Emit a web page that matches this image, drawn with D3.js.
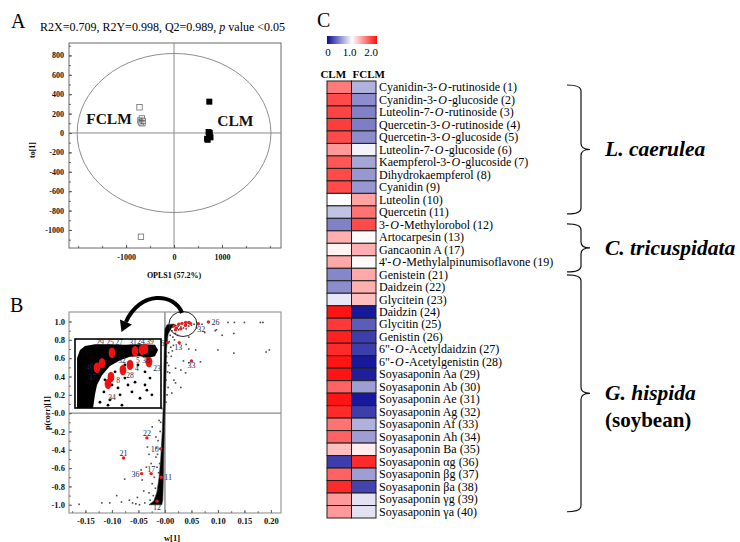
<!DOCTYPE html>
<html>
<head>
<meta charset="utf-8">
<script src="https://cdn.jsdelivr.net/npm/d3@7"></script>
<style>
  body { margin: 0; background: #fff; }
  svg { display: block; }
  text { font-family: "Liberation Serif", "Times New Roman", serif; }
</style>
</head>
<body>
<svg id="fig" width="740" height="542"></svg>
<script>
// ---------------- data ----------------
// panel A: OPLS-DA scores (OPLS1, to[1])
var fclmScores = [[-720, 265], [-700, 130], [-670, 150], [-660, 100], [-690, 110], [-650, 125], [-690, -1070]];
var fclmCross = [[-670, 125]];
var clmScores = [[735, 323], [720, 10], [745, 0], [690, -60], [760, -45], [730, -30], [700, -70]];
var ellipseRadii = [2020, 820];
var aTicksX = [-1000, 0, 1000];
var aTicksY = [-1000, -800, -600, -400, -200, 0, 200, 400, 600, 800];

// panel B: S-plot (w[1], p(corr)[1])
var bTicksX = [-0.15, -0.10, -0.05, 0, 0.05, 0.10, 0.15, 0.20];
var bTicksY = [-1.0, -0.8, -0.6, -0.4, -0.2, 0, 0.2, 0.4, 0.6, 0.8, 1.0];
// outline of the dense band of variables
var sBand = [[-0.030, -1.0], [-0.021, -0.96], [-0.015, -0.86], [-0.011, -0.7], [-0.008, -0.5], [-0.005, -0.2],
  [-0.003, 0.1], [-0.002, 0.5], [-0.001, 0.8], [0.0, 0.92], [0.004, 0.965], [0.016, 0.972], [0.022, 0.958],
  [0.012, 0.93], [0.006, 0.86], [0.003, 0.7], [0.002, 0.4], [0.0, 0.0], [-0.002, -0.4], [-0.003, -0.75],
  [-0.004, -0.95], [-0.006, -1.0]];
var sScatter = [[0.004, 0.55], [0.007, 0.66], [0.011, 0.72], [0.015, 0.83], [0.020, 0.87], [0.026, 0.91], [0.009, 0.44],
  [0.006, 0.28], [0.002, 0.36], [0.012, 0.62], [0.008, 0.78], [0.018, 0.80], [0.013, 0.90], [0.022, 0.93], [0.006, 0.90],
  [0.010, 0.85], [0.003, 0.62], [0.005, 0.45], [0.016, 0.74], [0.004, 0.20], [0.002, 0.12], [0.007, 0.52], [0.024, 0.85],
  [0.014, 0.68], [0.035, 0.93], [0.045, 0.95], [0.040, 0.92], [0.050, 0.96], [0.055, 0.97], [0.025, 0.95], [0.038, 0.95],
  [0.030, 0.94], [0.119, 0.99], [0.131, 0.99], [0.150, 0.99], [0.180, 0.99], [0.185, 0.99], [0.095, 0.90], [0.108, 0.85],
  [0.130, 0.87], [0.100, 0.69], [0.130, 0.655], [0.191, 0.667], [0.197, 0.69], [0.045, 0.70], [0.058, 0.69], [0.035, 0.57],
  [0.045, 0.55], [0.067, 0.56], [0.020, 0.49], [0.030, 0.47], [0.039, 0.44], [0.017, 0.36], [0.030, 0.28], [0.020, 0.33],
  [0.013, 0.22], [0.097, 0.91], [0.070, 0.97], [0.060, 0.93], [0.045, 0.83], [0.040, 0.75], [0.075, 0.88],
  [-0.162, -0.995], [-0.119, -0.98], [-0.104, -0.98], [-0.091, -0.90], [-0.076, -0.72], [-0.061, -0.98], [-0.052, -0.92],
  [-0.043, -0.73], [-0.035, -0.59], [-0.033, -0.37], [-0.024, -0.15], [-0.017, -0.26], [-0.017, -0.48], [-0.024, -0.77],
  [-0.030, -0.87], [-0.048, -1.0], [-0.082, -0.97], [-0.067, -0.95], [-0.011, -0.08], [-0.013, -0.30], [-0.015, -0.59],
  [-0.020, -0.70], [-0.028, -0.95], [-0.038, -0.98], [-0.022, -0.90], [-0.018, -0.82], [-0.014, -0.45], [-0.009, -0.20],
  [-0.012, -0.65], [-0.026, -0.55], [-0.040, -0.85], [-0.055, -0.99], [-0.010, -0.55], [-0.008, -0.10], [-0.016, -0.38],
  [-0.006, 0.05], [-0.030, -0.45], [-0.045, -0.62], [-0.025, -0.99]];
// marked compounds
var sMarked = [[0.082, 0.995], [0.063, 0.975], [0.005, 0.77], [0.027, 0.77], [0.05, 0.57], [-0.034, -0.27],
  [-0.078, -0.49], [-0.008, -0.39], [-0.044, -0.66], [-0.026, -0.66], [-0.007, -0.70], [-0.015, -0.96],
  [0.017, 0.95], [0.026, 0.97], [0.032, 0.98], [0.039, 0.99], [0.045, 0.99], [0.048, 0.98], [0.022, 0.93],
  [0.020, 0.91], [0.030, 0.92], [0.039, 0.96]];
var sMarkedLabels = ["26", "32", "6", "13", "33", "22", "21", "10", "36", "17", "11", "12"];
var zoomCircle = [0.034, 0.973];

// enlarged region (inset)
var insetBlob = [[0.0012, 0.88], [0.0012, 0.967], [0.0029, 0.981], [0.0058, 0.988], [0.0116, 0.991], [0.0203, 0.991],
  [0.0291, 0.990], [0.0378, 0.991], [0.0465, 0.990], [0.0483, 0.981], [0.0465, 0.970], [0.0424, 0.967], [0.0378, 0.970],
  [0.032, 0.969], [0.0262, 0.963], [0.0203, 0.953], [0.0157, 0.937], [0.0128, 0.920], [0.0116, 0.903], [0.0105, 0.88]];
var insetDots = [[0.0174, 0.929], [0.0233, 0.943], [0.029, 0.932], [0.0349, 0.925], [0.0407, 0.943], [0.0436, 0.932],
  [0.0418, 0.911], [0.0331, 0.908], [0.0262, 0.903], [0.0203, 0.894], [0.0168, 0.908], [0.0366, 0.955], [0.0308, 0.920],
  [0.025, 0.915], [0.0145, 0.890], [0.0192, 0.885], [0.0233, 0.963], [0.029, 0.955], [0.0407, 0.920], [0.0378, 0.897],
  [0.0273, 0.885], [0.0447, 0.903], [0.0215, 0.920]];
var insetRed = [[0.0215, 0.976], [0.0349, 0.979], [0.039, 0.981], [0.0407, 0.983], [0.043, 0.960], [0.0128, 0.950],
  [0.0157, 0.958], [0.0279, 0.946], [0.032, 0.955], [0.0209, 0.934], [0.0192, 0.922]];
var insetLabels = [["29", 0.0145, 0.995], ["25", 0.0203, 0.995], ["27", 0.0256, 0.995], ["31", 0.0337, 0.995],
  ["24", 0.0384, 0.997], ["39", 0.0436, 0.997], ["30", 0.0442, 0.984], ["40", 0.0087, 0.951], ["32", 0.0273, 0.963],
  ["5", 0.0366, 0.963], ["38", 0.0413, 0.963], ["4", 0.036, 0.950], ["23", 0.0477, 0.950], ["28", 0.032, 0.937],
  ["8", 0.025, 0.929], ["34", 0.0215, 0.899], ["37", 0.0100, 0.934]];

// panel C: relative abundance heat map
var samples = ["CLM", "FCLM"];
var compounds = ["Cyanidin-3-*O*-rutinoside", "Cyanidin-3-*O*-glucoside", "Luteolin-7-*O*-rutinoside",
  "Quercetin-3-*O*-rutinoside", "Quercetin-3-*O*-glucoside", "Luteolin-7-*O*-glucoside", "Kaempferol-3-*O*-glucoside",
  "Dihydrokaempferol", "Cyanidin", "Luteolin", "Quercetin", "3-*O*-Methylorobol", "Artocarpesin", "Gancaonin A",
  "4'-*O*-Methylalpinumisoflavone", "Genistein", "Daidzein", "Glycitein", "Daidzin", "Glycitin", "Genistin",
  "6\"-*O*-Acetyldaidzin", "6\"-*O*-Acetylgenistin", "Soyasaponin Aa", "Soyasaponin Ab", "Soyasaponin Ae",
  "Soyasaponin Ag", "Soyasaponin Af", "Soyasaponin Ah", "Soyasaponin Ba", "Soyasaponin \u03b1g", "Soyasaponin \u03b2g",
  "Soyasaponin \u03b2a", "Soyasaponin \u03b3g", "Soyasaponin \u03b3a"];
var compoundIds = [1, 2, 3, 4, 5, 6, 7, 8, 9, 10, 11, 12, 13, 17, 19, 21, 22, 23, 24, 25, 26, 27, 28, 29, 30, 31, 32, 33,
  34, 35, 36, 37, 38, 39, 40];
var clmValues = [1.55, 1.75, 1.78, 1.8, 1.75, 1.42, 1.7, 1.75, 1.75, 1.0, 0.75, 0.48, 1.33, 1.05, 1.36, 0.5, 0.53, 0.9,
  1.97, 1.82, 1.92, 1.88, 1.97, 1.97, 1.65, 1.97, 1.88, 1.58, 1.65, 1.27, 0.2, 1.65, 1.88, 1.42, 1.42];
var fclmValues = [0.68, 0.53, 0.48, 0.47, 0.53, 0.95, 0.63, 0.57, 0.57, 1.38, 1.58, 1.75, 1.02, 1.33, 1.02, 1.36, 1.33,
  1.27, 0.05, 0.33, 0.2, 0.2, 0.05, 0.08, 0.6, 0.05, 0.2, 0.68, 0.6, 1.08, 1.88, 0.6, 0.23, 0.88, 0.88];
var legendTicks = [0, 1, 2];
var groupNames = ["L. caerulea", "C. tricuspidata", "G. hispida"];
var groupNotes = ["", "", "(soybean)"];
var groupFrom = [0.32, 11.45, 15.53];   // in rows
var groupTo = [10.65, 15.29, 34.5];

// ---------------- drawing ----------------
var svg = d3.select("#fig");
var serif = "'Liberation Serif', 'Times New Roman', serif";

function panelLetter(x, y, t) {
  svg.append("text").attr("x", x).attr("y", y).style("font-size", "20px").text(t);
}
function plain(d) { return String(d) }   // keep "-1000", no thousands separator or unicode minus

// ===== Panel A =====
panelLetter(11, 28, "A");
var stats = svg.append("text").attr("x", 40).attr("y", 31).style("font-size", "12px");
stats.append("tspan").text("R2X=0.709,  R2Y=0.998,  Q2=0.989,  ");
stats.append("tspan").style("font-style", "italic").text("p");
stats.append("tspan").text(" value <0.05");

var ax = d3.scaleLinear().domain([-2190, 2230]).range([69, 281]);
var ay = d3.scaleLinear().domain([-1186, 928]).range([248, 43]);
var gA = svg.append("g");

gA.append("rect").attr("x", 69).attr("y", 43).attr("width", 212).attr("height", 205)
  .attr("fill", "none").attr("stroke", "#6b6b6b").attr("stroke-width", 1);
gA.append("line").attr("x1", ax(0)).attr("x2", ax(0)).attr("y1", 43).attr("y2", 248)
  .attr("stroke", "#8a8a8a").attr("stroke-width", 1);
gA.append("line").attr("x1", 69).attr("x2", 281).attr("y1", ay(0)).attr("y2", ay(0))
  .attr("stroke", "#8a8a8a").attr("stroke-width", 1);
gA.append("ellipse").attr("cx", ax(0)).attr("cy", ay(0))
  .attr("rx", ax(ellipseRadii[0]) - ax(0)).attr("ry", ay(0) - ay(ellipseRadii[1]))
  .attr("fill", "none").attr("stroke", "#808080").attr("stroke-width", 0.9);

gA.selectAll(".fclm").data(fclmScores).enter().append("rect")
  .attr("x", function (d) { return ax(d[0]) - 2.7 }).attr("y", function (d) { return ay(d[1]) - 2.7 })
  .attr("width", 5.4).attr("height", 5.4)
  .attr("fill", "#fff").attr("fill-opacity", 0.6).attr("stroke", "#6e6e6e").attr("stroke-width", 0.8);
gA.selectAll(".cross").data(fclmCross).enter().append("path")
  .attr("d", function (d) { var x = ax(d[0]), y = ay(d[1]); return "M" + (x - 3) + "," + y + "H" + (x + 3) + "M" + x + "," + (y - 3) + "V" + (y + 3) })
  .attr("stroke", "#333").attr("stroke-width", 0.9);
gA.selectAll(".clm").data(clmScores).enter().append("rect")
  .attr("x", function (d) { return ax(d[0]) - 3 }).attr("y", function (d) { return ay(d[1]) - 3 })
  .attr("width", 6).attr("height", 6).attr("fill", "#000");

gA.append("text").attr("x", ax(-880)).attr("y", ay(95)).attr("text-anchor", "end")
  .style("font-size", "15.5px").style("font-weight", "bold").attr("fill", "#111").text("FCLM");
gA.append("text").attr("x", ax(900)).attr("y", ay(75))
  .style("font-size", "15.5px").style("font-weight", "bold").attr("fill", "#111").text("CLM");

// axes A (ticks inside)
gA.append("g").attr("transform", "translate(69,0)")
  .call(d3.axisLeft(ay).tickValues(aTicksY).tickSize(-3).tickPadding(5).tickFormat(plain));
gA.append("g").attr("transform", "translate(69,0)")
  .call(d3.axisLeft(ay).tickValues(d3.range(-1100, 901, 100)).tickSize(-1.8).tickFormat(""));
gA.append("g").attr("transform", "translate(0,248)")
  .call(d3.axisBottom(ax).tickValues(aTicksX).tickSize(-3).tickPadding(6).tickFormat(plain));
gA.append("g").attr("transform", "translate(0,248)")
  .call(d3.axisBottom(ax).tickValues(d3.range(-2000, 2001, 500)).tickSize(-1.8).tickFormat(""));
gA.selectAll(".domain").remove();
gA.selectAll(".tick line").attr("stroke", "#555");
gA.selectAll(".tick text").style("font-family", serif).style("font-size", "8px").style("font-weight", "bold").attr("fill", "#111");
gA.append("text").attr("transform", "translate(35,150) rotate(-90)").attr("text-anchor", "middle")
  .style("font-size", "8px").style("font-weight", "bold").text("to[1]");
gA.append("text").attr("x", 174).attr("y", 278).attr("text-anchor", "middle")
  .style("font-size", "8px").style("font-weight", "bold").text("OPLS1 (57.2%)");

// ===== Panel B =====
panelLetter(10, 312, "B");
var bx = d3.scaleLinear().domain([-0.181, 0.219]).range([69, 281]);
var by = d3.scaleLinear().domain([-1.09, 1.104]).range([513, 312]);
var gB = svg.append("g");

gB.append("rect").attr("x", 69).attr("y", 312).attr("width", 212).attr("height", 201)
  .attr("fill", "none").attr("stroke", "#9a9a9a").attr("stroke-width", 1.2);
gB.append("line").attr("x1", 69).attr("x2", 281).attr("y1", by(0)).attr("y2", by(0))
  .attr("stroke", "#8a8a8a").attr("stroke-width", 1.2);
gB.append("line").attr("x1", bx(0)).attr("x2", bx(0)).attr("y1", 312).attr("y2", 513)
  .attr("stroke", "#8a8a8a").attr("stroke-width", 1.4);

gB.selectAll(".sp").data(sScatter).enter().append("rect")
  .attr("x", function (d) { return bx(d[0]) - 0.8 }).attr("y", function (d) { return by(d[1]) - 0.8 })
  .attr("width", 1.6).attr("height", 1.6).attr("fill", "#4a4a4a");
gB.append("path").datum(sBand)
  .attr("d", d3.line().x(function (d) { return bx(d[0]) }).y(function (d) { return by(d[1]) }).curve(d3.curveLinearClosed))
  .attr("fill", "#000").attr("stroke", "#333").attr("stroke-width", 0.6);
gB.selectAll(".red").data(sMarked).enter().append("circle")
  .attr("cx", function (d) { return bx(d[0]) }).attr("cy", function (d) { return by(d[1]) })
  .attr("r", 1.7).attr("fill", "#ee1c1c");

var labelSide = { "26": [3, 3, "start"], "32": [-1, 8, "start"], "6": [-3, 3, "end"], "13": [-1, 7, "middle"],
  "33": [0, 7, "middle"], "22": [0, -2, "middle"], "21": [0, -2, "middle"], "10": [-2, 3, "end"],
  "36": [-2, 3, "end"], "17": [0, -2, "middle"], "11": [3, 3, "start"], "12": [0, 9, "middle"] };
gB.selectAll(".lab").data(sMarkedLabels).enter().append("text")
  .attr("x", function (d, i) { return bx(sMarked[i][0]) + labelSide[d][0] })
  .attr("y", function (d, i) { return by(sMarked[i][1]) + labelSide[d][1] })
  .attr("text-anchor", function (d) { return labelSide[d][2] })
  .style("font-size", "8px").attr("fill", "#1b2a49").text(function (d) { return d });

gB.append("ellipse").attr("cx", bx(zoomCircle[0])).attr("cy", by(zoomCircle[1]))
  .attr("rx", 14).attr("ry", 12.5).attr("fill", "none").attr("stroke", "#222").attr("stroke-width", 1);

// inset (enlarged circled region)
var ix = d3.scaleLinear().domain([0, 0.05]).range([75, 161]);
var iy = d3.scaleLinear().domain([0.88, 1.0]).range([408, 339]);
svg.append("clipPath").attr("id", "insetClip").append("rect")
  .attr("x", 75).attr("y", 339).attr("width", 86).attr("height", 69);
gB.append("rect").attr("x", 75).attr("y", 339).attr("width", 86).attr("height", 69).attr("fill", "#fff");
var gI = gB.append("g").attr("clip-path", "url(#insetClip)");
gI.append("path").datum(insetBlob)
  .attr("d", d3.line().x(function (d) { return ix(d[0]) }).y(function (d) { return iy(d[1]) }).curve(d3.curveLinearClosed))
  .attr("fill", "#000");
gI.selectAll(".idot").data(insetDots).enter().append("circle")
  .attr("cx", function (d) { return ix(d[0]) }).attr("cy", function (d) { return iy(d[1]) })
  .attr("r", 1.4).attr("fill", "#000");
gI.selectAll(".ired").data(insetRed).enter().append("ellipse")
  .attr("cx", function (d) { return ix(d[0]) }).attr("cy", function (d) { return iy(d[1]) })
  .attr("rx", 3.4).attr("ry", 5.2).attr("fill", "#ee1111");
gI.selectAll(".ilab").data(insetLabels).enter().append("text")
  .attr("x", function (d) { return ix(d[1]) }).attr("y", function (d) { return iy(d[2]) + 3 })
  .attr("text-anchor", "middle").style("font-size", "7.5px").attr("fill", "#1b2a49")
  .text(function (d) { return d[0] });
gB.append("rect").attr("x", 75).attr("y", 339).attr("width", 86).attr("height", 69)
  .attr("fill", "none").attr("stroke", "#000").attr("stroke-width", 1.6);

// curved arrow from the circle to the inset
var a0 = [bx(zoomCircle[0]) - 1, by(zoomCircle[1]) - 11];
var c1 = [a0[0] - 7, a0[1] - 20], c2 = [a0[0] - 42, a0[1] - 23], a1 = [ix(0.0296), iy(1.0) - 17];
gB.append("path")
  .attr("d", "M" + a0 + "C" + c1 + " " + c2 + " " + a1)
  .attr("fill", "none").attr("stroke", "#000").attr("stroke-width", 4);
var tx = a1[0] - c2[0], ty = a1[1] - c2[1], tl = Math.sqrt(tx * tx + ty * ty);
tx /= tl; ty /= tl;
gB.append("path")
  .attr("d", "M" + (a1[0] + tx * 11) + "," + (a1[1] + ty * 11) +
    "L" + (a1[0] - ty * 6.5) + "," + (a1[1] + tx * 6.5) +
    "L" + (a1[0] + ty * 6.5) + "," + (a1[1] - tx * 6.5) + "Z")
  .attr("fill", "#000");

// axes B
gB.append("g").attr("transform", "translate(69,0)")
  .call(d3.axisLeft(by).tickValues(bTicksY).tickSize(-3).tickPadding(4)
    .tickFormat(function (d) { return (d <= 0 ? "-" : "") + Math.abs(d).toFixed(1) }));
gB.append("g").attr("transform", "translate(69,0)")
  .call(d3.axisLeft(by).tickValues(d3.range(-1.0, 1.05, 0.1)).tickSize(-1.8).tickFormat(""));
gB.append("g").attr("transform", "translate(0,513)")
  .call(d3.axisBottom(bx).tickValues(bTicksX).tickSize(-3).tickPadding(5)
    .tickFormat(function (d) { return (d <= 0 ? "-" : "") + Math.abs(d).toFixed(2) }));
gB.append("g").attr("transform", "translate(0,513)")
  .call(d3.axisBottom(bx).tickValues(d3.range(-0.175, 0.22, 0.025)).tickSize(-1.8).tickFormat(""));
gB.selectAll(".domain").remove();
gB.selectAll(".tick line").attr("stroke", "#666");
gB.selectAll(".tick text").style("font-family", serif).style("font-size", "8.5px").style("font-weight", "bold").attr("fill", "#111");
gB.append("text").attr("transform", "translate(50,413) rotate(-90)").attr("text-anchor", "middle")
  .style("font-size", "8px").style("font-weight", "bold").text("p(corr)[1]");
gB.append("text").attr("x", 172).attr("y", 541).attr("text-anchor", "middle")
  .style("font-size", "8.5px").style("font-weight", "bold").text("w[1]");

// ===== Panel C =====
panelLetter(317, 27, "C");
var heat = d3.scaleLinear().domain([0, 1, 2]).range(["#0c0c96", "#ffffff", "#ff0d0d"]);
var rows = d3.scaleBand().domain(d3.range(compounds.length)).range([81, 518]);
var cols = d3.scaleBand().domain(samples).range([327, 376]);
var gC = svg.append("g");

// colour key
var grad = svg.append("defs").append("linearGradient").attr("id", "heatGrad");
grad.selectAll("stop").data([0, 0.5, 1, 1.5, 2]).enter().append("stop")
  .attr("offset", function (d) { return (d / 2 * 100) + "%" }).attr("stop-color", function (d) { return heat(d) });
gC.append("rect").attr("x", 327).attr("y", 36).attr("width", 50).attr("height", 8).attr("fill", "url(#heatGrad)");
var keyX = d3.scaleLinear().domain([0, 2]).range([328, 371]);
gC.selectAll(".key").data(legendTicks).enter().append("text")
  .attr("x", function (d) { return keyX(d) }).attr("y", 56).attr("text-anchor", "middle")
  .style("font-size", "11px").text(function (d) { return d === 0 ? "0" : d.toFixed(1) });

// column headers sit a little left of / right of the cell centres, as in the original
var headerShift = { "CLM": -6, "FCLM": 5 };
gC.selectAll(".colh").data(samples).enter().append("text")
  .attr("x", function (d) { return cols(d) + cols.bandwidth() / 2 + headerShift[d] }).attr("y", 78).attr("text-anchor", "middle")
  .style("font-size", "11px").style("font-weight", "bold").text(function (d) { return d });

var cells = [];
compounds.forEach(function (c, i) {
  cells.push({ row: i, col: "CLM", v: clmValues[i] });
  cells.push({ row: i, col: "FCLM", v: fclmValues[i] });
});
gC.selectAll(".cell").data(cells).enter().append("rect")
  .attr("x", function (d) { return cols(d.col) }).attr("y", function (d) { return rows(d.row) })
  .attr("width", cols.bandwidth()).attr("height", rows.bandwidth())
  .attr("fill", function (d) { return heat(d.v) }).attr("stroke", "#1e1e1e").attr("stroke-width", 1);

// names: "*O*" marks the italic locant; a hair of spacing keeps the slanted O off its neighbours
gC.selectAll(".name").data(compounds).enter().append("text")
  .attr("x", 379).attr("y", function (d, i) { return rows(i) + rows.bandwidth() / 2 + 4 })
  .style("font-size", "12px")
  .each(function (d, i) {
    var t = d3.select(this);
    d.split("*").forEach(function (part, k) {
      if (!part) return;
      var s = t.append("tspan").text(part);
      if (k % 2) s.style("font-style", "italic").attr("dx", 1.2);
      else if (k > 0) s.attr("dx", 1.2);
    });
    t.append("tspan").text(" (" + compoundIds[i] + ")");
  });

// species braces
groupNames.forEach(function (g, i) {
  var y0 = rows(0) + groupFrom[i] * rows.step(), y1 = rows(0) + groupTo[i] * rows.step();
  var ym = (y0 + y1) / 2, r = 6, x0 = 567, x1 = 581, xt = 590;
  gC.append("path")
    .attr("d", "M" + x0 + "," + y0 + "Q" + x1 + "," + y0 + " " + x1 + "," + (y0 + r) +
      "L" + x1 + "," + (ym - r) + "Q" + x1 + "," + ym + " " + xt + "," + ym +
      "Q" + x1 + "," + ym + " " + x1 + "," + (ym + r) +
      "L" + x1 + "," + (y1 - r) + "Q" + x1 + "," + y1 + " " + x0 + "," + y1)
    .attr("fill", "none").attr("stroke", "#111").attr("stroke-width", 1.2);
  gC.append("text").attr("x", 605).attr("y", ym + 7)
    .style("font-size", "21.5px").style("font-weight", "bold").style("font-style", "italic").text(g);
  if (groupNotes[i]) {
    gC.append("text").attr("x", 605).attr("y", ym + 34)
      .style("font-size", "21px").style("font-weight", "bold").text(groupNotes[i]);
  }
});
</script>
</body>
</html>
